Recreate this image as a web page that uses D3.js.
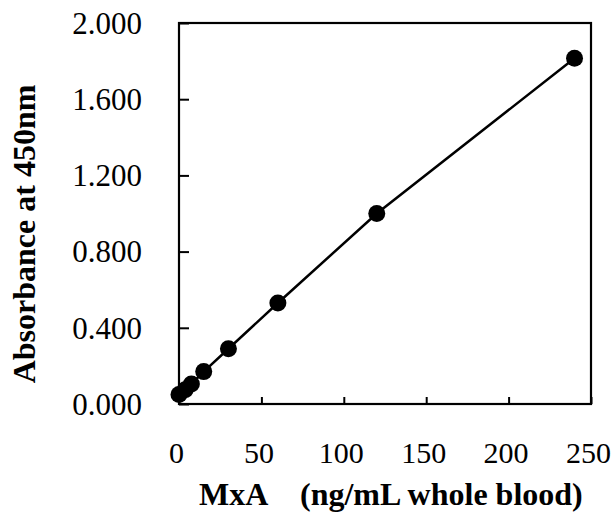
<!DOCTYPE html>
<html>
<head>
<meta charset="utf-8">
<script src="https://cdn.jsdelivr.net/npm/d3@7"></script>
<style>
  body { margin: 0; background: #fff; }
  text { font-family: "Liberation Serif", "Times New Roman", serif; fill: #000; }
</style>
</head>
<body>
<div id="chart"></div>
<script>
// MxA standard curve
var concentrations = [0, 3.75, 7.5, 15, 30, 60, 120, 240];
var absorbances = [0.050, 0.075, 0.105, 0.170, 0.290, 0.530, 1.000, 1.815];
var xTicks = [0, 50, 100, 150, 200, 250];
var yTicks = [0, 0.4, 0.8, 1.2, 1.6, 2.0];

var svgWidth = 613;
var svgHeight = 513;
var margin = { top: 23, right: 22, bottom: 109, left: 179 };
var width = svgWidth - margin.left - margin.right;
var height = svgHeight - margin.top - margin.bottom;

var svg = d3.select("#chart").append("svg")
  .attr("width", svgWidth)
  .attr("height", svgHeight);

var chartGroup = svg.append("g")
  .attr("transform", `translate(${margin.left}, ${margin.top})`);

var x = d3.scaleLinear().domain([0, 250]).range([0, width]);
var y = d3.scaleLinear().domain([0, 2]).range([height, 0]);

var points = concentrations.map((c, i) => ({ x: c, y: absorbances[i] }));

// axes, ticks point inward
var bottomAxis = d3.axisBottom(x).tickValues(xTicks).tickSize(-7).tickPadding(38)
  .tickFormat(d3.format("d"));
var leftAxis = d3.axisLeft(y).tickValues(yTicks).tickSize(-10).tickPadding(37)
  .tickFormat(d3.format(".3f"));

var xg = chartGroup.append("g")
  .attr("transform", `translate(0, ${height})`)
  .call(bottomAxis);
var yg = chartGroup.append("g").call(leftAxis);

[xg, yg].forEach(function(g) {
  g.select(".domain").remove();
  g.selectAll(".tick line").attr("stroke", "#000").attr("stroke-width", 2);
});
xg.selectAll(".tick text").style("font-size", "30px").attr("dx", "-3");
yg.selectAll(".tick text").style("font-size", "31px").attr("dy", "0.33em");

// frame
chartGroup.append("rect")
  .attr("x", 0).attr("y", 0)
  .attr("width", width).attr("height", height)
  .attr("fill", "none")
  .attr("stroke", "#000")
  .attr("stroke-width", 2.2);

// curve
var line = d3.line().x(d => x(d.x)).y(d => y(d.y));
chartGroup.append("path")
  .datum(points)
  .attr("d", line)
  .attr("fill", "none")
  .attr("stroke", "#000")
  .attr("stroke-width", 2.5);

chartGroup.selectAll("circle")
  .data(points)
  .enter()
  .append("circle")
  .attr("cx", d => x(d.x))
  .attr("cy", d => y(d.y))
  .attr("r", 8.5)
  .attr("fill", "#000");

// axis labels
svg.append("text")
  .attr("transform", "translate(35, 234) rotate(-90)")
  .attr("text-anchor", "middle")
  .style("font-size", "32px")
  .style("font-weight", "bold")
  .text("Absorbance at 450nm");

svg.append("text")
  .attr("x", 199)
  .attr("y", 505)
  .style("font-size", "32px")
  .style("font-weight", "bold")
  .text("MxA");

svg.append("text")
  .attr("x", 300)
  .attr("y", 505)
  .style("font-size", "32px")
  .style("font-weight", "bold")
  .text("(ng/mL whole blood)");
</script>
</body>
</html>
